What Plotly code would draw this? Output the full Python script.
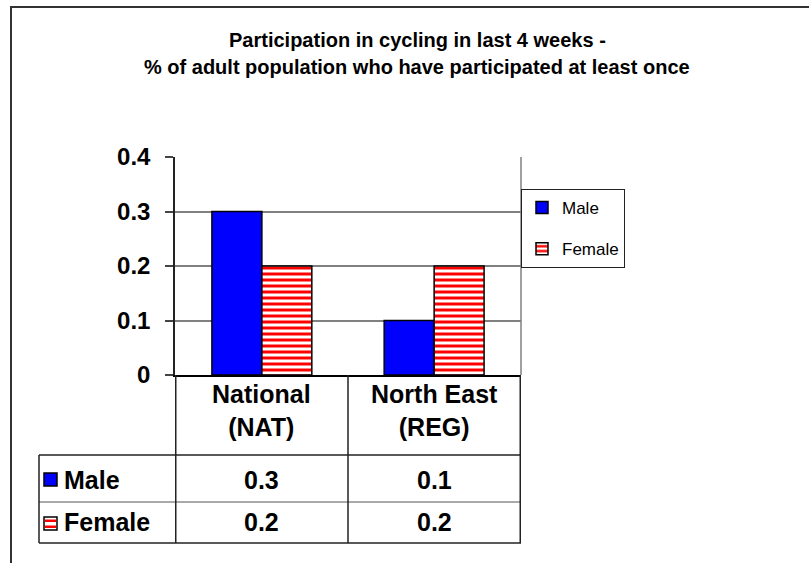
import plotly.graph_objects as go

# chart data
regions = ["National<br>(NAT)", "North East<br>(REG)"]
male = [0.3, 0.1]
female = [0.2, 0.2]
y_ticks = [0, 0.1, 0.2, 0.3, 0.4]
title_lines = [
    "Participation in cycling in last 4 weeks -",
    "% of adult population who have participated at least once",
]

W, H = 809, 563
FONT = "Liberation Sans, Arial, sans-serif"


def px_x(x):
    return x / W


def px_y(y):
    return 1 - y / H


fig = go.Figure()

fig.add_trace(go.Bar(
    x=regions, y=male, name="Male", legendgroup="m",
    marker=dict(color="#0000FF", line=dict(color="black", width=1.5)),
))
fig.add_trace(go.Bar(
    x=regions, y=female, name="Female", legendgroup="f",
    marker=dict(color="#FF0000", line=dict(color="black", width=1.5),
                pattern=dict(shape="-", fgcolor="#FF0000", bgcolor="white",
                             fgopacity=1, size=6, solidity=0.5)),
))

shapes = []
line_dark = dict(color="#222222", width=1.5)
line_gray = dict(color="#808080", width=1.5)

# outer frame (only left and top visible)
shapes.append(dict(type="line", xref="paper", yref="paper",
                   x0=px_x(11), x1=px_x(11), y0=px_y(7), y1=px_y(570), line=dict(color="#333333", width=2)))
shapes.append(dict(type="line", xref="paper", yref="paper",
                   x0=px_x(10), x1=px_x(820), y0=px_y(7), y1=px_y(7), line=dict(color="#333333", width=2)))
# plot area right border
shapes.append(dict(type="line", xref="x domain", yref="y domain",
                   x0=1, x1=1, y0=0, y1=1, line=line_gray))

# data table grid
for y in [455, 502, 543]:
    shapes.append(dict(type="line", xref="paper", yref="paper",
                       x0=px_x(39), x1=px_x(521), y0=px_y(y), y1=px_y(y),
                       line=line_dark if y != 502 else dict(color="#555555", width=1)))
shapes.append(dict(type="line", xref="paper", yref="paper",
                   x0=px_x(39), x1=px_x(39), y0=px_y(455), y1=px_y(543), line=line_dark))
for xb in [-0.5, 0.5, 1.5]:
    shapes.append(dict(type="line", xref="x", yref="paper",
                       x0=xb, x1=xb, y0=px_y(375), y1=px_y(543), line=line_dark))

# legend keys in the table row headers
shapes.append(dict(type="rect", xref="paper", yref="paper",
                   x0=px_x(44), x1=px_x(57), y0=px_y(473), y1=px_y(486),
                   fillcolor="#0000FF", line=dict(color="black", width=1.5)))
shapes.append(dict(type="rect", xref="paper", yref="paper",
                   x0=px_x(44), x1=px_x(57), y0=px_y(517), y1=px_y(530),
                   fillcolor="white", line=dict(color="black", width=1.5)))
for sy in [519.5, 525.5]:
    shapes.append(dict(type="rect", xref="paper", yref="paper",
                       x0=px_x(45), x1=px_x(56), y0=px_y(sy), y1=px_y(sy + 2.5),
                       fillcolor="#FF0000", line=dict(width=0)))

annotations = []
# title
for i, t in enumerate(title_lines):
    annotations.append(dict(text=f"<b>{t}</b>", xref="paper", yref="paper",
                            x=px_x(417), y=px_y(40 + 27 * i), showarrow=False,
                            xanchor="center", yanchor="middle",
                            font=dict(family=FONT, size=20, color="black")))
# category header row
for i, r in enumerate(regions):
    annotations.append(dict(text=f"<b>{r}</b>", xref="x", yref="paper",
                            x=i, y=px_y(410), showarrow=False,
                            xanchor="center", yanchor="middle",
                            font=dict(family=FONT, size=25, color="black")))
# value rows
rows = [("Male", male, 480), ("Female", female, 522)]
for name, vals, ypx in rows:
    annotations.append(dict(text=f"<b>{name}</b>", xref="paper", yref="paper",
                            x=px_x(62), y=px_y(ypx), showarrow=False,
                            xanchor="left", yanchor="middle",
                            font=dict(family=FONT, size=25, color="black")))
    for i, v in enumerate(vals):
        annotations.append(dict(text=f"<b>{v:g}</b>", xref="x", yref="paper",
                                x=i, y=px_y(ypx), showarrow=False,
                                xanchor="center", yanchor="middle",
                                font=dict(family=FONT, size=25, color="black")))

fig.update_layout(
    width=W, height=H,
    margin=dict(l=0, r=0, t=0, b=0, pad=0, autoexpand=False),
    paper_bgcolor="white", plot_bgcolor="white",
    font=dict(family=FONT, color="black"),
    barmode="group", bargap=0.42, bargroupgap=0,
    showlegend=True,
    legend=dict(x=px_x(521), y=px_y(189), xanchor="left", yanchor="top",
                bordercolor="#222222", borderwidth=1, bgcolor="white",
                font=dict(family=FONT, size=17, color="black"),
                traceorder="grouped", tracegroupgap=16),
    xaxis=dict(domain=[px_x(175), px_x(521)], showticklabels=False,
               showline=True, linecolor="black", linewidth=2, ticks="",
               showgrid=False, zeroline=False, fixedrange=True, automargin=False),
    yaxis=dict(domain=[px_y(375), px_y(157)], range=[0, 0.4],
               tickvals=y_ticks, ticktext=[f"{v:g}" for v in y_ticks],
               ticks="outside", ticklen=8, tickcolor="#444444", tickwidth=1.5,
               ticklabelstandoff=10, automargin=False,
               showline=True, linecolor="#222222", linewidth=1.5,
               showgrid=True, gridcolor="#808080", gridwidth=1.5,
               zeroline=False,
               tickfont=dict(family=FONT, size=24, color="black", weight="bold")),
    shapes=shapes,
    annotations=annotations,
)

fig.write_html("out.html", config={"displayModeBar": False},
               post_script="document.body.style.margin='0';document.body.style.overflow='hidden';")
